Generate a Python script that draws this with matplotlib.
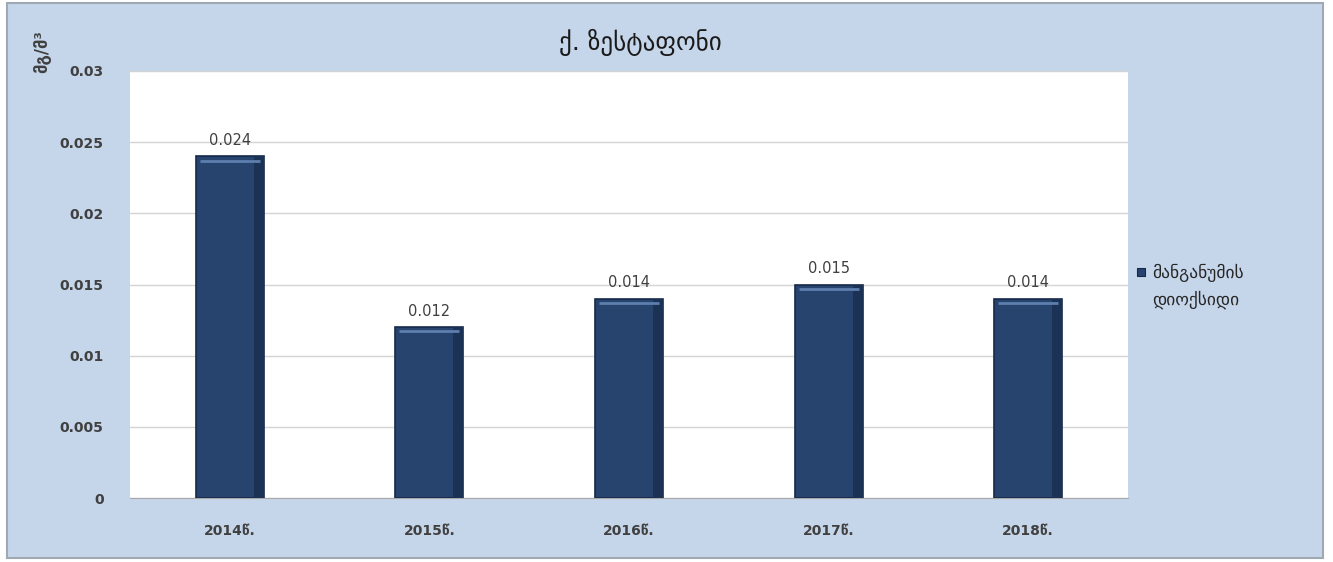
import numpy as np
import matplotlib.pyplot as plt
from matplotlib.patches import Rectangle

plt.rcParams['font.family'] = ['DejaVu Sans']

years = ['2014წ.', '2015წ.', '2016წ.', '2017წ.', '2018წ.']
values = [0.024, 0.012, 0.014, 0.015, 0.014]
yticks = [0, 0.005, 0.01, 0.015, 0.02, 0.025, 0.03]
ytick_labels = ['0', '0.005', '0.01', '0.015', '0.02', '0.025', '0.03']
title = 'ქ. ზესტაფონი'
unit = 'მგ/მ³'
series_name = 'მანგანუმის\nდიოქსიდი'

W, H = 1333, 562
fig = plt.figure(figsize=(W / 100, H / 100), dpi=100, facecolor='white')

# light blue chart frame, kept behind the axes
frame = Rectangle((7 / W, 1 - 558 / H), (1323 - 7) / W, (558 - 3) / H,
                  transform=fig.transFigure, facecolor='#c6d6ea',
                  edgecolor='#a0a8b4', linewidth=1.5, zorder=-10)
fig.patches.append(frame)

ax = fig.add_axes([130 / W, 1 - 498 / H, (1128 - 130) / W, (498 - 71) / H])
ax.set_zorder(1)
ax.set_facecolor('white')

x = np.arange(len(years))
bar_w = 0.34
ax.bar(x, values, width=bar_w, color='#27446e', edgecolor='#17294a',
       linewidth=1.2, zorder=3)
# darker shade along the right side of each bar
ax.bar(x + bar_w / 2 - 0.025, values, width=0.05, color='#1c3254',
       linewidth=0, zorder=3.5)
# lighter bevel line near the top of each bar
ax.hlines([v - 0.0003 for v in values], x - bar_w / 2 + 0.02, x + bar_w / 2 - 0.02,
          color='#5d7fae', linewidth=2, zorder=4)

for xi, v in zip(x, values):
    ax.text(xi, v + 0.0006, f'{v:.3f}', ha='center', va='bottom',
            fontsize=10.5, color='#404040', zorder=5)

ax.set_xlim(-0.5, len(years) - 0.5)
ax.set_ylim(0, 0.03)
ax.set_yticks(yticks)
ax.set_yticklabels(ytick_labels, fontsize=10, fontweight='bold', color='#404040')
ax.set_xticks(x)
ax.set_xticklabels(years, fontsize=10, fontweight='bold', color='#404040')
ax.tick_params(axis='both', length=0)
ax.tick_params(axis='y', pad=19)
ax.tick_params(axis='x', pad=19)
ax.grid(axis='y', color='#d4d4d4', linewidth=1, zorder=0)
ax.set_axisbelow(True)
for s in ['top', 'right', 'left']:
    ax.spines[s].set_visible(False)
ax.spines['bottom'].set_color('#a8a8a8')

fig.text(640 / W, 1 - 42 / H, title, ha='center', va='center',
         fontsize=18, color='#1a1a1a')
fig.text(42 / W, 1 - 52 / H, unit, ha='center', va='center', rotation=90,
         fontsize=12, fontweight='bold', color='#404040')

# legend
fig.patches.append(Rectangle((1137 / W, 1 - 276 / H), 8 / W, 8 / H,
                             transform=fig.transFigure, facecolor='#27446e',
                             edgecolor='#17294a', linewidth=0.8))
fig.text(1152 / W, 1 - 264 / H, series_name, ha='left', va='top',
         fontsize=12.5, color='#262626', linespacing=1.6)

fig.savefig('out.png', dpi=100, facecolor='white')
